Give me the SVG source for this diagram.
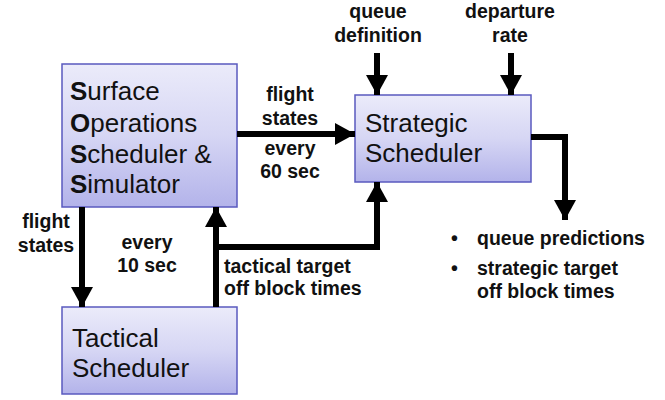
<svg xmlns="http://www.w3.org/2000/svg" width="665" height="400" viewBox="0 0 665 400">
<defs>
<linearGradient id="g" x1="0" y1="0" x2="0" y2="1">
<stop offset="0" stop-color="#ebebfa"/>
<stop offset="0.5" stop-color="#d6d6f4"/>
<stop offset="1" stop-color="#b3b3ea"/>
</linearGradient>
<marker id="ah" markerUnits="userSpaceOnUse" markerWidth="22" markerHeight="22" viewBox="0 0 22 22" refX="20" refY="11" orient="auto">
<path d="M0,0 L20,11 L0,22 Z" fill="#000"/>
</marker>
<style>
.box{fill:url(#g);stroke:#5a5abf;stroke-width:1.5}
.bt{font-family:"Liberation Sans",Arial,sans-serif;font-size:26px;fill:#111}
.lb{font-family:"Liberation Sans",Arial,sans-serif;font-size:19.5px;font-weight:bold;fill:#111}
.c{fill:none;stroke:#000;stroke-width:6}
</style>
</defs>
<g id="soss">
<rect class="box" x="62" y="64" width="175" height="143"/>
<text class="bt" x="70" y="100"><tspan font-weight="bold">S</tspan>urface</text>
<text class="bt" x="70" y="132"><tspan font-weight="bold">O</tspan>perations</text>
<text class="bt" x="70" y="163"><tspan font-weight="bold">S</tspan>cheduler &amp;</text>
<text class="bt" x="70" y="193"><tspan font-weight="bold">S</tspan>imulator</text>
</g>
<g id="strategic">
<rect class="box" x="355" y="95" width="176" height="87"/>
<text class="bt" x="365" y="132">Strategic</text>
<text class="bt" x="365" y="162">Scheduler</text>
</g>
<g id="tactical">
<rect class="box" x="62" y="307" width="175" height="87"/>
<text class="bt" x="72" y="347">Tactical</text>
<text class="bt" x="72" y="377">Scheduler</text>
</g>
<g id="connectors">
<path class="c" d="M237,134 H355" marker-end="url(#ah)"/>
<path class="c" d="M377,53 V95" marker-end="url(#ah)"/>
<path class="c" d="M511,53 V95" marker-end="url(#ah)"/>
<path class="c" d="M531,137 H565 V220" marker-end="url(#ah)"/>
<path class="c" d="M82,207 V307" marker-end="url(#ah)"/>
<path class="c" d="M216,307 V207" marker-end="url(#ah)"/>
<path class="c" d="M216,247 H377 V182" marker-end="url(#ah)"/>
</g>
<g id="labels">
<text class="lb" x="378" y="18" text-anchor="middle">queue</text>
<text class="lb" x="378" y="42" text-anchor="middle">definition</text>
<text class="lb" x="510" y="18" text-anchor="middle">departure</text>
<text class="lb" x="510" y="42" text-anchor="middle">rate</text>
<text class="lb" x="290" y="101" text-anchor="middle">flight</text>
<text class="lb" x="290" y="125" text-anchor="middle">states</text>
<text class="lb" x="290" y="155" text-anchor="middle">every</text>
<text class="lb" x="290" y="178" text-anchor="middle">60 sec</text>
<text class="lb" x="46" y="228" text-anchor="middle">flight</text>
<text class="lb" x="46" y="252" text-anchor="middle">states</text>
<text class="lb" x="147" y="249" text-anchor="middle">every</text>
<text class="lb" x="147" y="272" text-anchor="middle">10 sec</text>
<text class="lb" x="224" y="273">tactical target</text>
<text class="lb" x="224" y="295">off block times</text>
<text class="lb" x="451" y="245">•</text>
<text class="lb" x="477" y="245">queue predictions</text>
<text class="lb" x="451" y="275">•</text>
<text class="lb" x="477" y="275">strategic target</text>
<text class="lb" x="477" y="298">off block times</text>
</g>
</svg>
